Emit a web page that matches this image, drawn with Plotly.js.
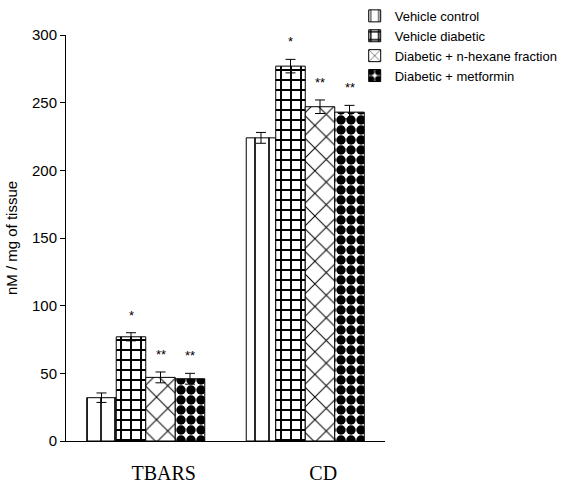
<!DOCTYPE html>
<html>
<head>
<meta charset="utf-8">
<script src="https://cdn.plot.ly/plotly-3.0.1.min.js"></script>
<style>html,body{margin:0;padding:0;background:#fff;}#chart{width:563px;height:485px;}</style>
</head>
<body>
<div id="chart"></div>
<script>
const categories = ["TBARS", "CD"];
const seriesNames = ["Vehicle control", "Vehicle diabetic", "Diabetic + n-hexane fraction", "Diabetic + metformin"];
const vehicleControl = [32, 224];
const vehicleDiabetic = [77, 277];
const hexaneFraction = [47, 247];
const metformin = [46, 243];
const errControl = [3.5, 4];
const errDiabetic = [3, 5];
const errHexane = [4, 5];
const errMetformin = [4, 5];
const sigControl = ["", ""];
const sigDiabetic = ["*", "*"];
const sigHexane = ["**", "**"];
const sigMetformin = ["**", "**"];
const yTicks = [0, 50, 100, 150, 200, 250, 300];

const values = [vehicleControl, vehicleDiabetic, hexaneFraction, metformin];
const errs = [errControl, errDiabetic, errHexane, errMetformin];
const sigs = [sigControl, sigDiabetic, sigHexane, sigMetformin];
const patterns = [
  {shape: "|", size: 14, solidity: 0.12, fgcolor: "#000", bgcolor: "#fff", fillmode: "replace"},
  {shape: "+", size: 10, solidity: 0.35, fgcolor: "#000", bgcolor: "#fff", fillmode: "replace"},
  {shape: "x", size: 16, solidity: 0.12, fgcolor: "#000", bgcolor: "#fff", fillmode: "replace"},
  {shape: ".", size: 10, solidity: 0.7, fgcolor: "#000", bgcolor: "#fff", fillmode: "replace"}
];
const sans = "Liberation Sans, Arial, sans-serif";

const traces = values.map((v, i) => ({
  type: "bar",
  name: seriesNames[i],
  legendgroup: "g" + i,
  x: categories,
  y: v,
  marker: {color: "#fff", pattern: patterns[i], line: {color: "#000", width: 1}},
  error_y: {type: "data", array: errs[i], visible: true, color: "#000", thickness: 1, width: 5}
}));

const bargap = 0.26;
const nBars = values.length;
const annotations = [];
values.forEach((v, i) => {
  categories.forEach((c, j) => {
    if (!sigs[i][j]) return;
    const off = (-(1 - bargap) / 2 + (1 - bargap) / nBars * (i + 0.5));
    annotations.push({
      x: j + off, y: v[j] + errs[i][j], xref: "x", yref: "y",
      text: sigs[i][j], showarrow: false, yanchor: "bottom", yshift: 8,
      font: {family: sans, size: 13, color: "#000"}
    });
  });
});

const layout = {
  width: 563, height: 485,
  margin: {l: 66, r: 178, t: 35, b: 44, autoexpand: false},
  paper_bgcolor: "#fff", plot_bgcolor: "#fff",
  barmode: "group", bargap: bargap, bargroupgap: 0,
  showlegend: true,
  legend: {x: 0.905, xanchor: "left", y: 1.084, yanchor: "top", traceorder: "grouped", tracegroupgap: 0,
    font: {family: sans, size: 13, color: "#000"},
    itemwidth: 30, bgcolor: "rgba(0,0,0,0)"},
  xaxis: {type: "category", showline: true, linecolor: "#000", linewidth: 1, ticks: "",
    tickfont: {family: "Liberation Serif, Times New Roman, serif", size: 20, color: "#000"},
    ticklabelstandoff: 14, ticklabelshift: 18,
    showgrid: false, zeroline: false},
  yaxis: {range: [0, 300], tickvals: yTicks, showline: true, linecolor: "#000", linewidth: 1,
    ticks: "outside", ticklen: 5, tickcolor: "#000", showgrid: false, zeroline: false,
    tickfont: {family: sans, size: 15, color: "#000"},
    title: {text: "nM / mg of tissue", standoff: 10,
      font: {family: sans, size: 15, color: "#000"}}},
  annotations: annotations
};

Plotly.newPlot("chart", traces, layout, {displayModeBar: false, staticPlot: true});
</script>
</body>
</html>
